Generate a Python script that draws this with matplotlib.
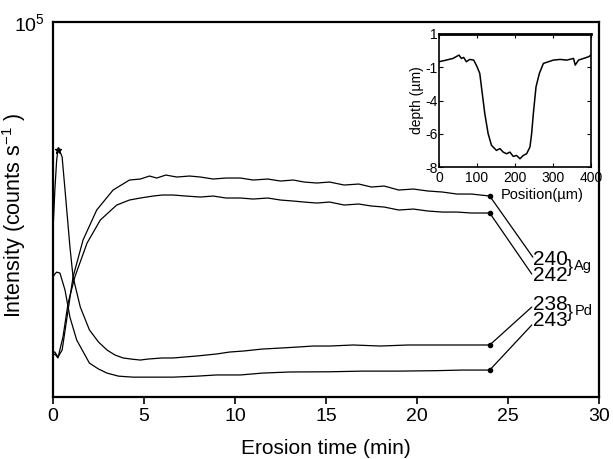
import matplotlib
matplotlib.use("Agg")
import matplotlib.pyplot as plt

plt.rcParams['font.family'] = ['Liberation Sans', 'DejaVu Sans']
plt.rcParams['mathtext.fontset'] = 'custom'
plt.rcParams['mathtext.rm'] = 'Liberation Sans'
plt.rcParams['mathtext.it'] = 'Liberation Sans:italic'

# ---- main data: erosion time (min) vs intensity (counts/s) ----
t_240 = [0, 0.1, 0.27, 0.5, 0.77, 1.1, 1.65, 2.4, 3.3, 4.2, 4.8, 5.3, 5.7, 6.2, 6.8, 7.5, 8.1, 8.8,
         9.5, 10.3, 11.0, 11.8, 12.5, 13.2, 13.8, 14.5, 15.2, 16.0, 16.8, 17.5, 18.2, 19.0, 19.8,
         20.6, 21.4, 22.2, 23.0, 24.0]
i_240 = [30.2, 30.2, 26.7, 31.7, 71, 191, 473, 988, 1614, 2064, 2115, 2277, 2168, 2333, 2222, 2277,
         2222, 2115, 2168, 2168, 2064, 2115, 2014, 2064, 1965, 1918, 1965, 1825, 1871, 1738, 1781,
         1614, 1655, 1576, 1537, 1463, 1463, 1393]

t_242 = [0, 0.1, 0.27, 0.55, 0.83, 1.2, 1.87, 2.6, 3.5, 4.2, 4.8, 5.5, 6.0, 6.6, 7.3, 8.1, 8.8, 9.5,
         10.3, 11.0, 11.8, 12.5, 13.2, 13.8, 14.5, 15.2, 16.0, 16.8, 17.5, 18.2, 19.0, 19.8, 20.6,
         21.4, 22.2, 23.0, 24.0]
i_242 = [28.1, 28.8, 26.1, 44, 101, 191, 439, 773, 1117, 1263, 1327, 1393, 1428, 1428, 1393, 1359,
         1393, 1327, 1327, 1294, 1327, 1263, 1232, 1202, 1173, 1202, 1117, 1145, 1090, 1063, 988,
         1012, 964, 940, 940, 918, 918]

t_238 = [0, 0.1, 0.2, 0.27, 0.35, 0.5, 0.66, 0.93, 1.1, 1.5, 2.0, 2.5, 2.97, 3.4, 3.85, 4.3, 4.8,
         5.2, 6.0, 6.6, 7.9, 9.0, 9.7, 10.5, 11.5, 12.5, 13.4, 14.3, 15.2, 16.5, 18.0, 19.5, 20.7,
         22.0, 23.0, 24.0]
i_238 = [604, 1614, 3373, 4312, 4312, 3631, 1614, 398, 191, 91, 52, 38.6, 31.7, 28.1, 26.1, 25.4,
         24.8, 25.4, 26.1, 26.1, 27.4, 28.8, 30.2, 31.0, 32.5, 33.3, 34.1, 35.0, 35.0, 35.9, 35.0,
         35.9, 35.9, 35.9, 35.9, 35.9]

t_243 = [0, 0.1, 0.2, 0.38, 0.66, 0.93, 1.3, 2.0, 2.5, 2.97, 3.6, 4.4, 5.5, 6.6, 7.9, 9.0, 10.3,
         11.5, 13.0, 15.2, 17.0, 19.0, 21.0, 22.5, 24.0]
i_243 = [191, 205, 215, 210, 138, 71, 40.6, 23.0, 19.9, 18.0, 16.7, 16.3, 16.3, 16.3, 16.7, 17.2,
         17.2, 18.0, 18.5, 18.6, 18.9, 18.9, 19.1, 19.4, 19.4]

series_names = ['240', '242', '238', '243']

# ---- inset data: crater profile ----
pos_um = [0, 19.4, 37, 52.9, 59, 65.2, 72.2, 81, 91.6, 100.4, 107.5, 111.9, 120.7, 129.5, 138.3,
          151.5, 160.4, 169.2, 178, 186.8, 195.6, 204.4, 213.2, 222, 230.8, 239.6, 244, 248.5,
          255.5, 264.3, 274.9, 288, 301.3, 319, 336.6, 354.2, 358.6, 367.4, 380.6, 393.8, 400]
depth_um = [-1.67, -1.57, -1.47, -1.27, -1.47, -1.41, -1.67, -1.53, -1.57, -1.97, -2.37, -3.18,
            -4.78, -5.99, -6.69, -7.0, -6.89, -7.10, -7.2, -7.10, -7.36, -7.30, -7.50, -7.30, -7.2,
            -6.79, -5.99, -4.78, -3.18, -2.37, -1.77, -1.67, -1.57, -1.53, -1.57, -1.47, -1.87,
            -1.57, -1.47, -1.37, -1.27]
inset_yticks = [0, -2, -4, -6, -8]
inset_yticklabels = ['1', '-1', '-4', '-6', '-8']
inset_xticks = [0, 100, 200, 300, 400]

fig = plt.figure(figsize=(6.13, 4.59), dpi=100)
ax = fig.add_axes([0.0865, 0.135, 0.8905, 0.817])

lw = 0.9
ax.plot(t_240, i_240, color='black', lw=lw)
ax.plot(t_242, i_242, color='black', lw=lw)
ax.plot(t_238, i_238, color='black', lw=lw)
ax.plot(t_243, i_243, color='black', lw=lw)
ax.plot([t_238[3]], [i_238[3]], marker='*', color='black', ms=5)

ends = [(t_240[-1], i_240[-1]), (t_242[-1], i_242[-1]), (t_238[-1], i_238[-1]), (t_243[-1], i_243[-1])]
for (x, y) in ends:
    ax.plot([x], [y], 'o', color='black', ms=3)

leader_to = [(0.879, 0.373), (0.877, 0.328), (0.877, 0.240), (0.877, 0.192)]
for (x, y), (fx, fy) in zip(ends, leader_to):
    ax.annotate('', xy=(fx, fy), xycoords='axes fraction', xytext=(x, y), textcoords='data',
                arrowprops=dict(arrowstyle='-', color='black', lw=0.9, shrinkA=0, shrinkB=0))

label_pos = [0.366, 0.324, 0.247, 0.205]
for name, yy in zip(series_names, label_pos):
    ax.text(0.879, yy, name, transform=ax.transAxes, fontsize=15, ha='left', va='center')
ax.text(0.942, 0.346, '}', transform=ax.transAxes, fontsize=13, ha='left', va='center')
ax.text(0.955, 0.350, 'Ag', transform=ax.transAxes, fontsize=10.5, ha='left', va='center')
ax.text(0.942, 0.226, '}', transform=ax.transAxes, fontsize=13, ha='left', va='center')
ax.text(0.955, 0.230, 'Pd', transform=ax.transAxes, fontsize=10.5, ha='left', va='center')

ax.set_yscale('log')
ax.set_ylim(10, 1e5)
ax.set_xlim(0, 30)
ax.set_xticks([0, 5, 10, 15, 20, 25, 30])
ax.set_yticks([1e5])
ax.yaxis.set_minor_locator(matplotlib.ticker.NullLocator())
ax.tick_params(axis='x', direction='out', length=5, width=1.2, labelsize=14, pad=3)
ax.tick_params(axis='y', direction='out', length=0, labelsize=14, pad=6)
for s in ax.spines.values():
    s.set_linewidth(1.6)
ax.set_xlabel('Erosion time (min)', fontsize=15, labelpad=10)
ax.set_ylabel('Intensity (counts s$^{-1}$ )', fontsize=15.5)
ax.yaxis.set_label_coords(-0.046, 0.483)

# ---- inset ----
axi = fig.add_axes([0.716, 0.636, 0.248, 0.290])
axi.plot(pos_um, depth_um, color='black', lw=1.1)
axi.set_xlim(0, 400)
axi.set_ylim(-8, 0)
axi.set_xticks(inset_xticks)
axi.set_yticks(inset_yticks)
axi.set_yticklabels(inset_yticklabels)
axi.tick_params(direction='in', length=3, labelsize=10, top=True, right=True)
axi.tick_params(axis='y', pad=1)
axi.tick_params(axis='x', pad=3)
for s in axi.spines.values():
    s.set_linewidth(1.2)
axi.spines['top'].set_linewidth(2)
axi.set_ylabel('depth (µm)', fontsize=10, labelpad=1)
axi.text(0.95, -0.21, 'Position(µm)', transform=axi.transAxes, fontsize=10.5,
         ha='right', va='center')

fig.savefig('out.png', dpi=100)
